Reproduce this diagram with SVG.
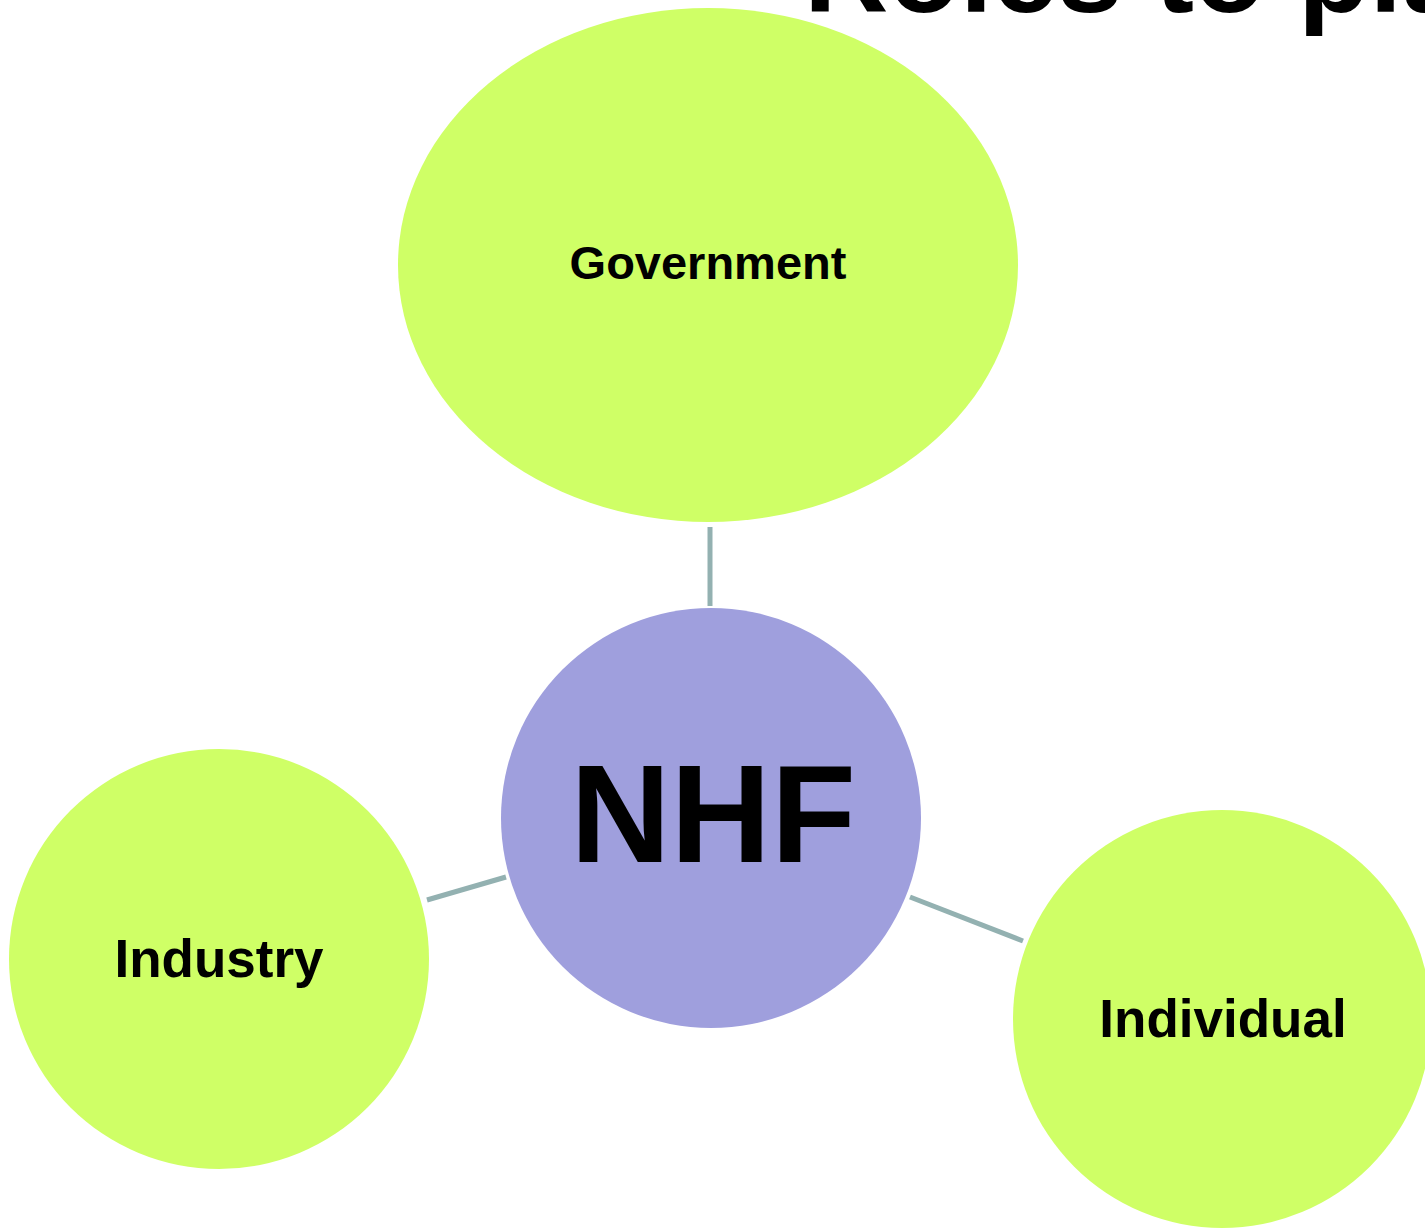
<svg xmlns="http://www.w3.org/2000/svg" width="1425" height="1229" viewBox="0 0 1425 1229">
<style>
.role{fill:#CFFF66;}
.hub{fill:#9F9FDD;}
.lbl{font-family:"Liberation Sans",Arial,sans-serif;font-weight:bold;fill:#000;text-anchor:middle;}
.conn{stroke:#93B1B1;stroke-width:5;fill:none;}
</style>
<rect width="1425" height="1229" fill="#fff"/>
<text x="804" y="12" font-family="Liberation Sans, Arial, sans-serif" font-weight="bold" font-size="117" fill="#000">Roles to play</text>
<g id="connectors">
<line class="conn" x1="710" y1="527" x2="710" y2="606"/>
<line class="conn" x1="427" y1="900" x2="506" y2="877"/>
<line class="conn" x1="910" y1="897" x2="1023" y2="941"/>
</g>
<g id="government">
<ellipse class="role" cx="708" cy="265" rx="310" ry="257"/>
<text class="lbl" x="708" y="279" font-size="47">Government</text>
</g>
<g id="nhf">
<circle class="hub" cx="711" cy="818" r="210"/>
<text class="lbl" x="713" y="862" font-size="139">NHF</text>
</g>
<g id="industry">
<circle class="role" cx="219" cy="959" r="210"/>
<text class="lbl" x="219" y="977" font-size="53">Industry</text>
</g>
<g id="individual">
<circle class="role" cx="1222" cy="1019" r="209"/>
<text class="lbl" x="1223" y="1037" font-size="53">Individual</text>
</g>
</svg>
